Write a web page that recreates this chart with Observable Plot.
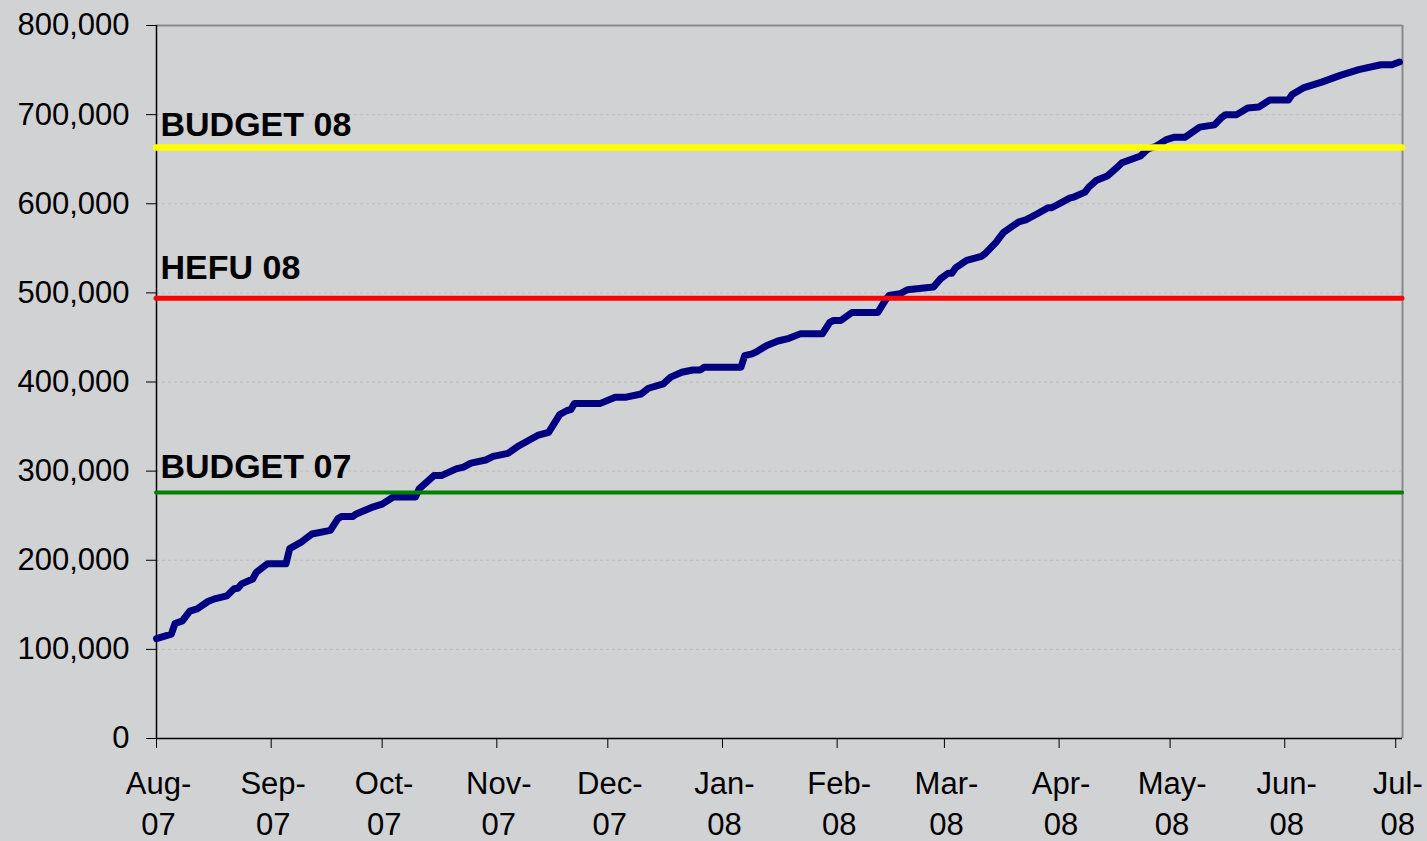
<!DOCTYPE html>
<html><head><meta charset="utf-8">
<script src="https://cdn.jsdelivr.net/npm/d3@7"></script>
<script src="https://cdn.jsdelivr.net/npm/@observablehq/plot@0.6"></script>
<style>
html,body{margin:0;padding:0;background:#d1d2d4;overflow:hidden;}
</style></head><body><div id="chart"></div>
<script>
// cumulative series (date, value)
const dates = [
"2007-08-01","2007-08-05","2007-08-06","2007-08-08","2007-08-10","2007-08-12","2007-08-15","2007-08-17","2007-08-20","2007-08-22",
"2007-08-23","2007-08-24","2007-08-27","2007-08-28","2007-08-31","2007-09-05","2007-09-06","2007-09-09","2007-09-12","2007-09-17",
"2007-09-19","2007-09-20","2007-09-23","2007-09-24","2007-09-28","2007-10-01","2007-10-04","2007-10-10","2007-10-11","2007-10-15",
"2007-10-17","2007-10-21","2007-10-23","2007-10-25","2007-10-29","2007-10-31","2007-11-04","2007-11-07","2007-11-12","2007-11-15",
"2007-11-18","2007-11-20","2007-11-21","2007-11-22","2007-11-29","2007-12-03","2007-12-06","2007-12-10","2007-12-12","2007-12-16",
"2007-12-18","2007-12-21","2007-12-24","2007-12-26","2007-12-27","2008-01-06","2008-01-07","2008-01-09","2008-01-10","2008-01-13",
"2008-01-16","2008-01-19","2008-01-22","2008-01-28","2008-01-30","2008-01-31","2008-02-02","2008-02-05","2008-02-12","2008-02-14",
"2008-02-15","2008-02-18","2008-02-20","2008-02-27","2008-02-29","2008-03-02","2008-03-03","2008-03-04","2008-03-07","2008-03-11",
"2008-03-12","2008-03-15","2008-03-16","2008-03-17","2008-03-21","2008-03-23","2008-03-26","2008-03-29","2008-03-30","2008-04-04",
"2008-04-05","2008-04-08","2008-04-09","2008-04-11","2008-04-14","2008-04-17","2008-04-18","2008-04-23","2008-04-25","2008-04-27",
"2008-04-30","2008-05-02","2008-05-05","2008-05-09","2008-05-13","2008-05-15","2008-05-16","2008-05-19","2008-05-22","2008-05-25",
"2008-05-28","2008-06-02","2008-06-03","2008-06-06","2008-06-11","2008-06-16","2008-06-21","2008-06-27","2008-06-30","2008-07-02"
];
const values = [
112000,117000,129000,132000,143000,145500,154000,157000,160000,168000,
168500,173500,179000,186500,196000,196000,213000,220000,229500,233500,
246500,249000,249000,252000,259000,263000,271000,271000,280000,295000,
295000,302500,304500,309000,312500,316500,320000,328500,340000,343500,
363500,368000,369000,376000,376000,383000,383000,386500,393000,398000,
405500,411000,413500,413500,416500,416500,429500,431500,433500,441000,
446000,449000,454000,454000,467000,469000,469000,478000,478000,491500,
497000,499000,503500,506500,516000,522000,522000,528000,536500,541000,
544000,557000,562500,568000,579500,582000,588500,595500,595500,606500,
607500,613000,618500,626000,631000,642000,646000,653500,661500,664000,
672000,674500,674500,686000,688500,697000,700000,700000,707500,708500,
716500,716500,722500,730000,736500,744000,750500,756000,756000,759000
];
// reference lines
const refNames = ["BUDGET 08", "HEFU 08", "BUDGET 07"];
const refValues = [663000, 494000, 276000];
// axis ticks
const monthTicks = ["2007-08-01","2007-09-01","2007-10-01","2007-11-01","2007-12-01","2008-01-01",
"2008-02-01","2008-03-01","2008-04-01","2008-05-01","2008-06-01","2008-07-01"];
const monthLabels = ["Aug-\n07","Sep-\n07","Oct-\n07","Nov-\n07","Dec-\n07","Jan-\n08",
"Feb-\n08","Mar-\n08","Apr-\n08","May-\n08","Jun-\n08","Jul-\n08"];
const yTicks = [0,100000,200000,300000,400000,500000,600000,700000,800000];

const parse = d3.utcParse("%Y-%m-%d");
const data = dates.map((d, i) => ({date: parse(d), value: values[i]}));
const tickDates = monthTicks.map(parse);
const xDomain = [parse("2007-08-01"), new Date(Date.UTC(2008, 6, 2, 20))];
const labelFor = d => monthLabels[tickDates.findIndex(t => +t === +d)];

const refStyles = [
  {stroke: "#ffff00", width: 6.5, dy: -22},
  {stroke: "#ff0000", width: 5, dy: -30.5},
  {stroke: "#008000", width: 4, dy: -25.5}
];
const font = "'Liberation Sans', Arial, Helvetica, sans-serif";

const refMarks = refNames.flatMap((name, i) => [
  Plot.ruleY([refValues[i]], {stroke: refStyles[i].stroke, strokeWidth: refStyles[i].width, strokeLinecap: "round"}),
  Plot.text([name], {frameAnchor: "left", y: () => refValues[i], text: d => d, textAnchor: "start",
    dx: 4, dy: refStyles[i].dy, fontSize: 34, fontWeight: "bold", fill: "#000", fontFamily: font})
]);

const chart = Plot.plot({
  width: 1427, height: 841,
  marginLeft: 156, marginRight: 25, marginTop: 25, marginBottom: 103,
  style: {background: "#d1d2d4", fontFamily: font, color: "#000", overflow: "visible"},
  x: {type: "utc", domain: xDomain},
  y: {domain: [0, 800000]},
  marks: [
    Plot.ruleY(yTicks.filter(v => v > 0 && v < 800000), {stroke: "#bcbcbc", strokeDasharray: "3,3", strokeWidth: 1}),
    Plot.ruleY([800000], {stroke: "#8a8a8a", strokeWidth: 2}),
    Plot.ruleX([xDomain[1]], {stroke: "#8a8a8a", strokeWidth: 2}),
    Plot.axisY({ticks: yTicks, tickFormat: d3.format(","), tickSize: 10, tickPadding: 17,
      fontSize: 31, label: null, stroke: "#000", fill: "#000"}),
    Plot.axisX({ticks: tickDates, tickFormat: () => "", tickSize: 10, label: null, stroke: "#000"}),
    Plot.axisX({ticks: tickDates, tickFormat: labelFor, tickSize: 0, tickPadding: 26,
      fontSize: 31, lineHeight: 1.33, label: null, fill: "#000", dx: 2}),
    Plot.ruleX([xDomain[0]], {stroke: "#000", strokeWidth: 1.5}),
    Plot.ruleY([0], {stroke: "#000", strokeWidth: 1.5}),
    Plot.lineY(data, {x: "date", y: "value", stroke: "#000080", strokeWidth: 7, strokeLinejoin: "round", strokeLinecap: "round"}),
    ...refMarks
  ]
});
document.getElementById("chart").appendChild(chart);
</script>
</body></html>
